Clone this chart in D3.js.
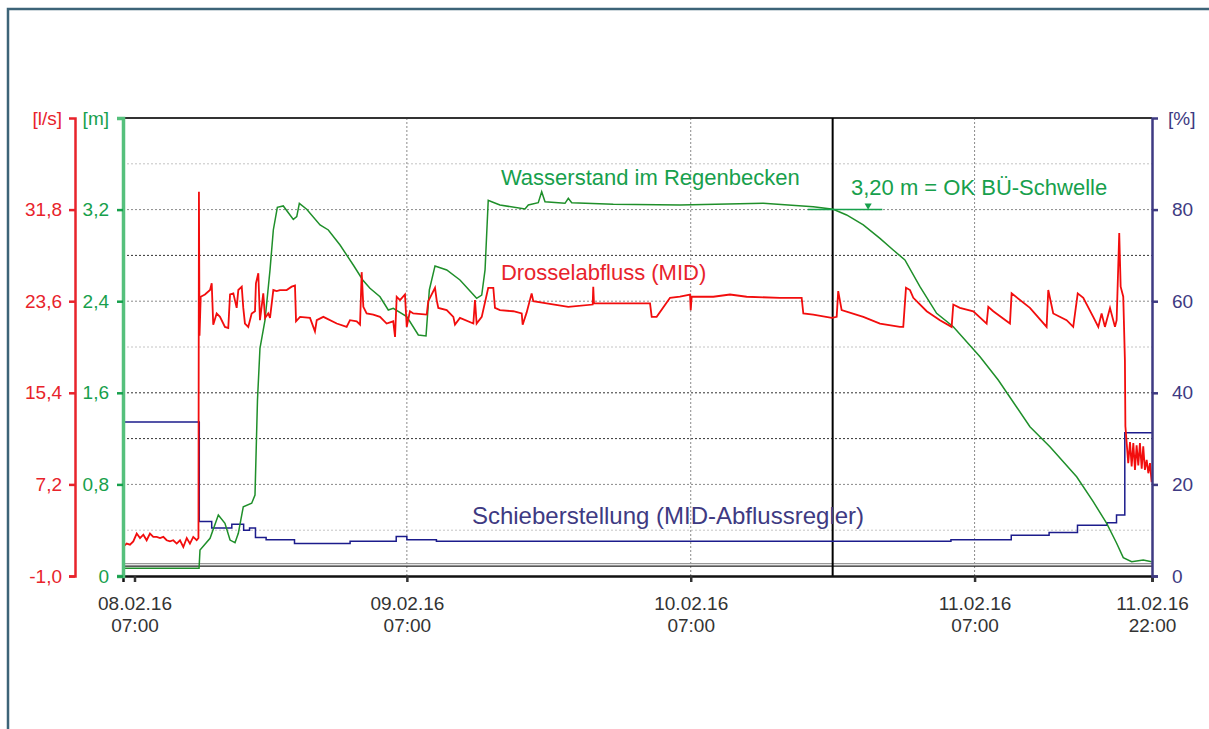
<!DOCTYPE html>
<html>
<head>
<meta charset="utf-8">
<script src="https://cdn.jsdelivr.net/npm/d3@7"></script>
<style>
body { margin: 0; background: #fff; }
svg text { font-family: "Liberation Sans", Arial, sans-serif; }
</style>
</head>
<body>
<div id="chart"></div>
<script>
const WIDTH = 1209, HEIGHT = 729;
const plot = {left: 123, right: 1152, top: 118, bottom: 576};
const HOUR = 3600 * 1000;
const START = new Date(2016, 1, 8, 7, 0);
const END = new Date(2016, 1, 11, 22, 0);

const RED = "#e8232b", GREEN = "#17a04c", PURPLE = "#3e3a82";

// axis ticks
const xTicks = [new Date(2016, 1, 8, 7), new Date(2016, 1, 9, 7), new Date(2016, 1, 10, 7),
                new Date(2016, 1, 11, 7), new Date(2016, 1, 11, 22)];
const flowTicks = [-1.0, 7.2, 15.4, 23.6, 31.8];
const levelTicks = [0, 0.8, 1.6, 2.4, 3.2];
const gateTicks = [0, 20, 40, 60, 80];
const levelGrid = [0.4, 0.8, 1.2, 1.6, 2.0, 2.4, 2.8, 3.2, 3.6];
const darkGrid = [1.2, 1.6, 2.8];
const lightGrid = [0.4, 2.0, 3.6];

// annotations (hours from 08.02.16 07:00)
const markerHour = 60;
const thresholdLevel = 3.2;
const thresholdSpan = [57.9, 64.2];
const thresholdArrow = 63.0;

// Drosselabfluss (MID) [hour, l/s]
const flow = [[0,1.6],[0.31,1.9],[0.59,1.8],[0.87,2.1],[1.16,2.8],[1.44,2.4],[1.72,2.7],[2.0,2.2],[2.28,2.8],
  [2.56,2.5],[2.85,2.5],[3.13,2.4],[3.41,2.5],[3.69,2.2],[3.97,2.1],[4.25,2.2],[4.54,1.9],[4.82,2.2],[5.1,1.6],
  [5.39,2.4],[5.66,1.9],[5.94,2.5],[6.23,2.2],[6.38,2.4],[6.42,33.4],[6.47,20.5],[6.57,24.0],[6.93,24.2],
  [7.36,24.6],[7.5,25.2],[7.63,21.5],[7.92,22.5],[8.2,22.2],[8.62,21.3],[8.9,21.2],[9.05,24.2],[9.33,24.3],
  [9.61,23.0],[9.75,24.6],[10.04,24.9],[10.17,23.0],[10.31,21.6],[10.59,21.3],[10.88,22.5],[11.16,22.7],
  [11.24,25.2],[11.44,26.1],[11.58,21.9],[11.86,24.3],[12.01,22.1],[12.28,22.5],[12.43,22.1],[12.71,24.6],
  [12.99,24.5],[13.27,24.6],[13.84,24.6],[14.26,24.9],[14.54,25.0],[14.63,21.8],[14.97,22.2],[15.81,22.1],
  [16.23,20.9],[16.38,21.9],[16.94,22.2],[18.07,21.6],[18.91,21.3],[19.19,21.9],[19.76,21.8],[20.04,21.5],
  [20.18,26.2],[20.32,23.1],[20.6,22.5],[21.16,22.4],[21.73,22.2],[22.29,21.6],[22.85,21.8],[23.0,20.4],
  [23.14,24.0],[23.42,23.7],[23.84,24.2],[23.99,21.3],[24.26,22.7],[24.54,22.5],[25.68,22.4],[25.81,23.6],
  [26.38,24.8],[26.52,23.7],[26.66,23.0],[27.37,22.8],[27.93,22.2],[28.07,21.5],[28.49,22.1],[29.62,21.6],
  [29.76,23.7],[29.9,21.6],[30.33,22.2],[30.88,24.8],[31.31,24.8],[31.45,23.0],[31.87,22.8],[33.0,22.7],
  [33.71,22.5],[33.79,21.5],[34.13,22.6],[34.55,24.3],[34.69,23.6],[35.82,23.4],[37.65,23.1],[39.71,23.3],
  [39.76,24.9],[39.82,23.4],[41.45,23.4],[44.56,23.4],[44.7,22.2],[45.12,22.2],[46.25,23.9],[47.09,24.0],
  [47.94,24.2],[48.0,22.8],[48.08,24.0],[49.91,24.0],[51.32,24.2],[52.73,24.0],[55.55,23.9],[57.38,23.9],
  [57.52,22.5],[58.36,22.4],[59.92,22.1],[60.34,22.2],[60.47,24.5],[60.76,22.8],[62.59,22.2],[64.0,21.6],
  [65.69,21.3],[65.97,21.3],[66.2,24.8],[66.54,24.6],[66.82,23.9],[67.95,22.7],[69.07,21.9],[70.06,21.3],
  [70.2,23.3],[70.76,23.0],[71.89,22.7],[73.02,21.6],[73.16,23.1],[73.58,22.7],[74.99,21.6],[75.13,24.3],
  [76.68,23.0],[78.09,21.3],[78.23,24.6],[78.65,22.5],[79.78,21.9],[80.34,21.3],[80.72,24.3],[81.19,23.9],
  [82.03,22.2],[82.46,21.3],[82.74,22.5],[83.02,21.3],[83.45,23.0],[83.87,21.3],[84.01,21.9],[84.23,29.7],
  [84.35,24.9],[84.57,24.0],[84.71,18.3],[84.75,12.4],[84.99,9.1],[85.14,11.0],[85.28,8.8],[85.42,10.9],
  [85.56,8.5],[85.7,10.7],[85.84,8.9],[85.98,10.9],[86.13,8.6],[86.26,10.6],[86.4,8.5],[86.55,9.4],
  [86.69,8.2],[86.83,9.1],[86.97,7.4]];

// Wasserstand im Regenbecken [hour, m]
const level = [[0,0.067],[6.43,0.067],[6.51,0.227],[7.36,0.329],[8.06,0.533],[8.62,0.46],[9.05,0.314],
  [9.47,0.291],[9.75,0.373],[10.17,0.605],[10.88,0.635],[11.16,0.707],[11.37,1.537],[11.58,1.989],
  [12.01,2.236],[12.43,2.673],[12.71,3.022],[13.05,3.22],[13.55,3.232],[14.4,3.115],[14.69,3.138],
  [14.91,3.255],[15.53,3.203],[16.66,3.066],[17.36,3.022],[18.35,2.891],[19.47,2.716],[20.27,2.585],
  [20.88,2.513],[21.73,2.439],[22.43,2.323],[22.85,2.338],[23.99,2.265],[24.97,2.105],[25.62,2.096],
  [25.9,2.498],[26.38,2.708],[27.37,2.673],[28.49,2.585],[29.9,2.425],[30.33,2.454],[30.61,2.673],
  [30.88,3.281],[31.17,3.269],[31.87,3.24],[33.99,3.205],[34.27,3.24],[35.11,3.26],[35.4,3.356],
  [35.68,3.269],[37.37,3.255],[37.65,3.299],[37.94,3.26],[41.45,3.246],[47.09,3.24],[54.13,3.255],
  [58.36,3.225],[60.05,3.203],[61.18,3.153],[62.59,3.066],[64.0,2.949],[65.12,2.847],[66.11,2.76],
  [67.38,2.527],[68.79,2.294],[70.2,2.177],[72.46,1.915],[74.0,1.712],[76.68,1.304],[78.37,1.129],
  [80.63,0.867],[82.03,0.649],[83.17,0.46],[84.01,0.286],[84.57,0.16],[85.28,0.125],[86.26,0.14],
  [86.97,0.125]];

// Schieberstellung (MID-Abflussregler) [hour, %], stepwise
const gate = [[0,33.6],[6.45,11.9],[7.5,10.5],[9.2,11.3],[10.2,10.0],[10.7,10.5],[11.2,8.4],[12.1,7.9],
  [14.5,7.1],[19.2,7.6],[23.1,8.6],[24.0,7.9],[26.5,7.6],[70.0,7.9],[75.1,8.9],[78.3,9.5],[80.7,11.1],
  [83.2,11.6],[84.0,13.3],[84.7,31.3],[87,31.3]];

const de = d3.formatLocale({decimal: ",", thousands: ".", grouping: [3], currency: ["", "€"], minus: "-"});
const fmt1 = de.format(".1f");
const fmtShort = v => v === 0 ? "0" : de.format(".1f")(v);
const toTime = h => new Date(START.getTime() + h * HOUR);

const svg = d3.select("#chart").append("svg")
  .attr("width", WIDTH).attr("height", HEIGHT)
  .style("background", "#fff");

// outer frame
svg.append("path")
  .attr("d", `M8,${HEIGHT} V9 H${WIDTH}`)
  .attr("fill", "none").attr("stroke", "#3d6478").attr("stroke-width", 2.5);

const x = d3.scaleTime().domain([START, END]).range([plot.left, plot.right]);
const yFlow = d3.scaleLinear().domain([-1, 40]).range([plot.bottom, plot.top]);
const yLevel = d3.scaleLinear().domain([0, 4]).range([plot.bottom, plot.top]);
const yGate = d3.scaleLinear().domain([0, 100]).range([plot.bottom, plot.top]);

// horizontal gridlines
svg.append("g").selectAll("line").data(levelGrid).enter().append("line")
  .attr("x1", plot.left).attr("x2", plot.right)
  .attr("y1", d => yLevel(d)).attr("y2", d => yLevel(d))
  .attr("stroke", d => darkGrid.includes(d) ? "#333" : (lightGrid.includes(d) ? "#c4c4c4" : "#8a8a8a"))
  .attr("stroke-width", 1).attr("stroke-dasharray", "2,2");

// vertical gridlines
svg.append("g").selectAll("line").data(xTicks.slice(1, 4)).enter().append("line")
  .attr("x1", d => x(d)).attr("x2", d => x(d))
  .attr("y1", plot.top).attr("y2", plot.bottom)
  .attr("stroke", "#8a8a8a").attr("stroke-width", 1).attr("stroke-dasharray", "2,2");

// top border
svg.append("line")
  .attr("x1", plot.left).attr("x2", plot.right).attr("y1", plot.top).attr("y2", plot.top)
  .attr("stroke", "#333").attr("stroke-width", 2);

// zero line of the flow axis (double)
svg.append("line")
  .attr("x1", plot.left).attr("x2", plot.right)
  .attr("y1", yFlow(0) - 1.3).attr("y2", yFlow(0) - 1.3)
  .attr("stroke", "#999").attr("stroke-width", 1.2);
svg.append("line")
  .attr("x1", plot.left).attr("x2", plot.right)
  .attr("y1", yFlow(0) + 1.3).attr("y2", yFlow(0) + 1.3)
  .attr("stroke", "#222").attr("stroke-width", 1.2);

// marker line
svg.append("line")
  .attr("x1", x(toTime(markerHour))).attr("x2", x(toTime(markerHour)))
  .attr("y1", plot.top).attr("y2", plot.bottom)
  .attr("stroke", "#000").attr("stroke-width", 2);

// series
const lineOf = (yScale, curve) => d3.line()
  .x(d => x(toTime(d[0]))).y(d => yScale(d[1])).curve(curve);

svg.append("path").datum(gate)
  .attr("d", lineOf(yGate, d3.curveStepAfter))
  .attr("fill", "none").attr("stroke", "#1c1c8c").attr("stroke-width", 1.5);

svg.append("path").datum(level)
  .attr("d", lineOf(yLevel, d3.curveLinear))
  .attr("fill", "none").attr("stroke", "#1f8f2a").attr("stroke-width", 1.5);

svg.append("path").datum(flow)
  .attr("d", lineOf(yFlow, d3.curveLinear))
  .attr("fill", "none").attr("stroke", "#f20d0d").attr("stroke-width", 1.8);

// threshold annotation
svg.append("line")
  .attr("x1", x(toTime(thresholdSpan[0]))).attr("x2", x(toTime(thresholdSpan[1])))
  .attr("y1", yLevel(thresholdLevel)).attr("y2", yLevel(thresholdLevel))
  .attr("stroke", GREEN).attr("stroke-width", 1.5);
svg.append("path")
  .attr("d", d3.symbol().type(d3.symbolTriangle).size(22)())
  .attr("transform", `translate(${x(toTime(thresholdArrow))},${yLevel(thresholdLevel) - 4}) rotate(180)`)
  .attr("fill", GREEN);

// x axis
const xAxis = d3.axisBottom(x).tickValues(xTicks).tickSize(6).tickFormat("");
const gx = svg.append("g").attr("transform", `translate(0,${plot.bottom})`).call(xAxis);
gx.select(".domain").attr("stroke", "#111").attr("stroke-width", 2.5);
gx.selectAll(".tick line").attr("stroke", "#333").attr("stroke-width", 2.5);
// first label sits a little right of the plot edge in the original
gx.selectAll(".tick").filter((d, i) => i === 0)
  .attr("transform", `translate(${x(xTicks[0]) + 12},0)`);
const fDate = d3.timeFormat("%d.%m.%y"), fTime = d3.timeFormat("%H:%M");
gx.selectAll(".tick").each(function(d) {
  const t = d3.select(this).append("text")
    .attr("fill", "#333").attr("font-size", 19).attr("text-anchor", "middle");
  t.append("tspan").attr("x", 0).attr("y", 34).text(fDate(d));
  t.append("tspan").attr("x", 0).attr("y", 56).text(fTime(d));
});

// left axes
function styleAxis(g, color) {
  g.select(".domain").attr("stroke", color).attr("stroke-width", 2.5);
  g.selectAll(".tick line").attr("stroke", color).attr("stroke-width", 2.5);
  g.selectAll(".tick text").attr("fill", color).attr("font-size", 19)
    .attr("font-family", "'Liberation Sans', Arial, sans-serif");
}

const gFlow = svg.append("g").attr("transform", "translate(75,0)")
  .call(d3.axisLeft(yFlow).tickValues(flowTicks).tickFormat(fmt1).tickSize(6).tickPadding(7));
styleAxis(gFlow, RED);

const gLevel = svg.append("g").attr("transform", `translate(${plot.left},0)`)
  .call(d3.axisLeft(yLevel).tickValues(levelTicks).tickFormat(fmtShort).tickSize(6).tickPadding(8));
styleAxis(gLevel, GREEN);
gLevel.select(".domain").attr("stroke", "#55c07c").attr("stroke-width", 3.5);

const gGate = svg.append("g").attr("transform", `translate(${plot.right},0)`)
  .call(d3.axisRight(yGate).tickValues(gateTicks).tickFormat(d3.format("d")).tickSize(6).tickPadding(14));
styleAxis(gGate, PURPLE);

// units
const unit = (txt, xPos, anchor, color) => svg.append("text")
  .attr("x", xPos).attr("y", plot.top).attr("dy", "0.35em")
  .attr("text-anchor", anchor).attr("fill", color).attr("font-size", 19).text(txt);
unit("[l/s]", 62, "end", RED);
unit("[m]", 109, "end", GREEN);
unit("[%]", 1168, "start", PURPLE);

// series labels
const label = (txt, h, yPx, color, size) => svg.append("text")
  .attr("x", x(toTime(h))).attr("y", yPx)
  .attr("fill", color).attr("font-size", size).text(txt);
label("Wasserstand im Regenbecken", 31.95, 185, GREEN, 22);
label("Drosselabfluss (MID)", 31.95, 280, RED, 22);
label("3,20 m = OK BÜ-Schwelle", 61.55, 195, GREEN, 22);
label("Schieberstellung (MID-Abflussregler)", 29.5, 524, PURPLE, 24);
</script>
</body>
</html>
